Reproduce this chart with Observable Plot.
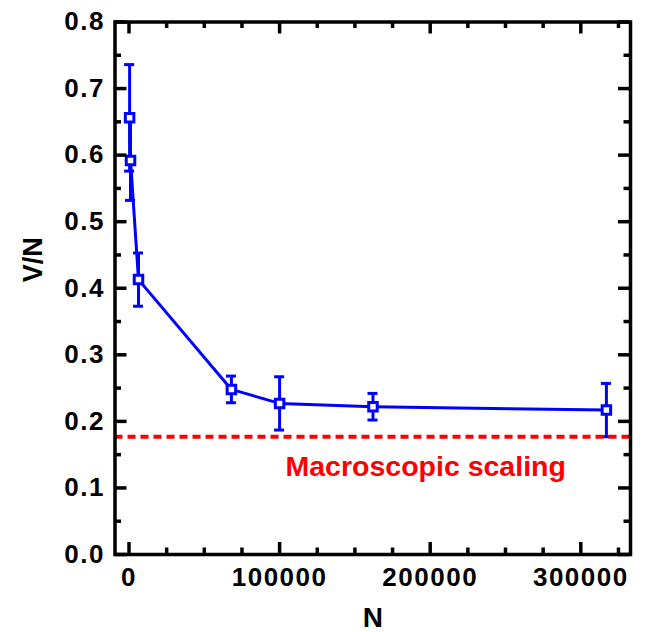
<!DOCTYPE html>
<html><head><meta charset="utf-8">
<script src="https://cdn.jsdelivr.net/npm/d3@7"></script>
<script src="https://cdn.jsdelivr.net/npm/@observablehq/plot@0.6"></script>
<style>body{margin:0;background:#fff}</style>
</head><body><div id="chart"></div>
<script>
// ---- data ----
const N   = [400, 1000, 6300, 68000, 100000, 162000, 317000];
const VN  = [0.656, 0.592, 0.413, 0.248, 0.227, 0.222, 0.217];
const ERR = [0.080, 0.060, 0.040, 0.020, 0.040, 0.020, 0.040];
const macroLevel = 0.177;
const macroLabel = "Macroscopic scaling";
const macroLabelN = 197000;
const macroLabelVN = 0.131;
const xLabel = "N";
const yLabel = "V/N";
const xTicks = [0, 100000, 200000, 300000];
const xMinorTicks = [25000, 50000, 75000, 125000, 150000, 175000, 225000, 250000, 275000, 325000];
const yTicks = [0, 0.1, 0.2, 0.3, 0.4, 0.5, 0.6, 0.7, 0.8];
const yMinorTicks = [0.05, 0.15, 0.25, 0.35, 0.45, 0.55, 0.65, 0.75];
const xDomain = [-9300, 333000];
const yDomain = [0, 0.8];

const blue = "#0000ff";
const red = "#ff0000";
const data = N.map((n, i) => ({n, v: VN[i], e: ERR[i]}));
const caps = data.flatMap(d => [{n: d.n, v: d.v - d.e}, {n: d.n, v: d.v + d.e}]);
const MAJ = 12, MIN = 6.5, TW = 3.5;

function yTickRules(ticks, len) {
  return [
    Plot.ruleY(ticks, {y: d => d, x1: () => xDomain[0], x2: () => xDomain[0], insetRight: -len, stroke: "black", strokeWidth: TW}),
    Plot.ruleY(ticks, {y: d => d, x1: () => xDomain[1], x2: () => xDomain[1], insetLeft: -len, stroke: "black", strokeWidth: TW})
  ];
}
function xTickRules(ticks, len) {
  return [
    Plot.ruleX(ticks, {x: d => d, y1: () => yDomain[0], y2: () => yDomain[0], insetTop: -len, stroke: "black", strokeWidth: TW}),
    Plot.ruleX(ticks, {x: d => d, y1: () => yDomain[1], y2: () => yDomain[1], insetBottom: -len, stroke: "black", strokeWidth: TW})
  ];
}

const chart = Plot.plot({
  width: 645,
  height: 632,
  marginLeft: 114.5,
  marginTop: 21.5,
  marginRight: 15,
  marginBottom: 78,
  style: {fontFamily: "'Liberation Sans', Arial, Helvetica, sans-serif", background: "white", color: "black"},
  x: {domain: xDomain, label: null},
  y: {domain: yDomain, label: null},
  marks: [
    Plot.axisX(xTicks, {tickSize: 0, tickPadding: 13, fontSize: 26, fontWeight: "bold", tickFormat: d => String(d), label: null}),
    Plot.axisY(yTicks, {tickSize: 0, tickPadding: 10, fontSize: 26, fontWeight: "bold", tickFormat: d3.format(".1f"), label: null}),
    // error bars
    Plot.ruleX(data, {x: "n", y1: d => d.v - d.e, y2: d => d.v + d.e, stroke: blue, strokeWidth: 3}),
    Plot.ruleY(caps, {y: "v", x1: "n", x2: "n", insetLeft: -5, insetRight: -5, stroke: blue, strokeWidth: 3}),
    // connecting line
    Plot.line(data, {x: "n", y: "v", stroke: blue, strokeWidth: 3}),
    // macroscopic level
    Plot.ruleY([macroLevel], {stroke: red, strokeWidth: 4, strokeDasharray: "8,5"}),
    Plot.dot(data, {x: "n", y: "v", symbol: "square", r: 4.8, fill: "white", stroke: blue, strokeWidth: 3}),
    Plot.text([{n: macroLabelN, v: macroLabelVN, t: macroLabel}], {x: "n", y: "v", text: "t", fill: red, fontSize: 28.5, fontWeight: "bold", lineAnchor: "middle"}),
    // axis titles
    Plot.text([xLabel], {frameAnchor: "bottom", dy: 64, lineAnchor: "middle", fontSize: 28, fontWeight: "bold"}),
    Plot.text([yLabel], {frameAnchor: "left", dx: -81.5, dy: -6, rotate: -90, lineAnchor: "middle", fontSize: 27, fontWeight: "bold"}),
    // frame and inward ticks
    Plot.frame({stroke: "black", strokeWidth: 3.5}),
    ...yTickRules(yTicks, MAJ),
    ...yTickRules(yMinorTicks, MIN),
    ...xTickRules(xTicks, MAJ),
    ...xTickRules(xMinorTicks, MIN)
  ]
});
d3.select(chart).selectAll('[aria-label$="tick label"] text').style("letter-spacing", "1.5px");
document.getElementById("chart").append(chart);
</script>
</body></html>
